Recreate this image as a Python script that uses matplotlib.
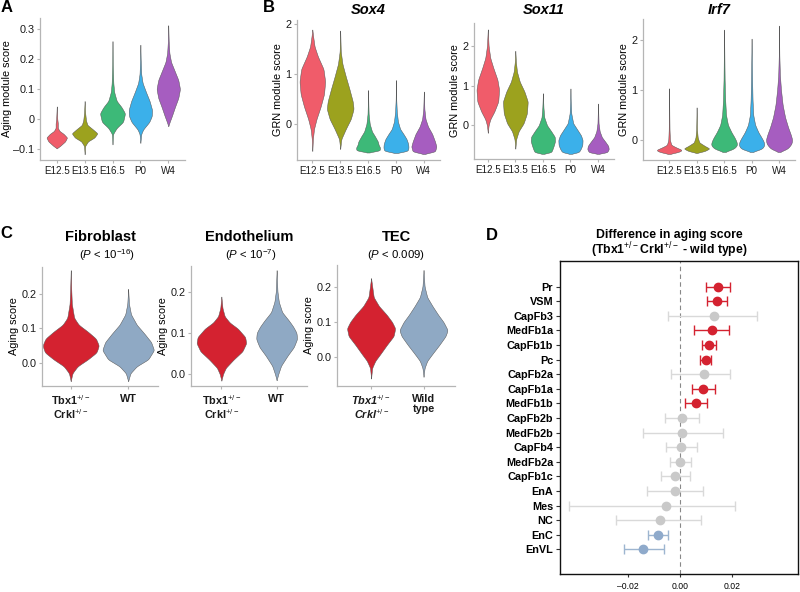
import numpy as np
import matplotlib
matplotlib.use("Agg")
import matplotlib.pyplot as plt

plt.rcParams['font.family'] = ['Liberation Sans', 'DejaVu Sans']
plt.rcParams['mathtext.fontset'] = 'custom'
plt.rcParams['mathtext.rm'] = 'Liberation Sans'
plt.rcParams['mathtext.it'] = 'Liberation Sans:italic'
plt.rcParams['mathtext.bf'] = 'Liberation Sans:bold'

# ---------------- data ----------------
stages = ["E12.5", "E13.5", "E16.5", "P0", "W4"]
stage_colors = ["#F05C6A", "#9CA21E", "#3DB978", "#3BB0EA", "#A65DC0"]

# Panel A: aging module score violins (score knots, half-width knots)
a_y = [
    [-0.098, -0.09, -0.075, -0.062, -0.05, -0.04, -0.03, -0.015, 0.0, 0.02, 0.042],
    [-0.118, -0.09, -0.075, -0.062, -0.048, -0.035, -0.02, -0.005, 0.02, 0.06],
    [-0.085, -0.05, -0.03, -0.01, 0.019, 0.04, 0.06, 0.09, 0.12, 0.18, 0.26],
    [-0.08, -0.05, -0.035, -0.01, 0.01, 0.03, 0.06, 0.09, 0.12, 0.15, 0.2, 0.248],
    [-0.024, -0.01, 0.01, 0.04, 0.07, 0.1, 0.13, 0.16, 0.19, 0.22, 0.26, 0.313],
]
a_w = [
    [0, 0.12, 0.3, 0.37, 0.25, 0.1, 0.04, 0.04, 0.02, 0.01, 0],
    [0, 0.02, 0.12, 0.35, 0.46, 0.3, 0.1, 0.05, 0.02, 0],
    [0, 0.02, 0.15, 0.38, 0.45, 0.32, 0.15, 0.06, 0.03, 0.01, 0],
    [0, 0.03, 0.1, 0.32, 0.41, 0.42, 0.33, 0.2, 0.08, 0.03, 0.01, 0],
    [0, 0.05, 0.13, 0.24, 0.36, 0.42, 0.36, 0.23, 0.1, 0.04, 0.015, 0],
]

# Panel B: GRN module score violins
sox4_y = [
    [-0.54, -0.3, -0.1, 0.1, 0.35, 0.6, 0.85, 1.1, 1.35, 1.55, 1.75, 1.89],
    [-0.5, -0.3, -0.1, 0.1, 0.3, 0.45, 0.7, 0.95, 1.2, 1.45, 1.87],
    [-0.57, -0.53, -0.47, -0.42, -0.35, -0.25, -0.15, 0.0, 0.2, 0.4, 0.68],
    [-0.58, -0.54, -0.47, -0.4, -0.3, -0.2, -0.1, 0.05, 0.25, 0.5, 0.88],
    [-0.6, -0.55, -0.45, -0.35, -0.2, -0.05, 0.1, 0.3, 0.65],
]
sox4_w = [
    [0, 0.02, 0.06, 0.15, 0.3, 0.42, 0.46, 0.4, 0.2, 0.08, 0.03, 0],
    [0, 0.04, 0.2, 0.38, 0.48, 0.45, 0.33, 0.2, 0.08, 0.02, 0],
    [0, 0.42, 0.43, 0.38, 0.35, 0.25, 0.14, 0.06, 0.02, 0.01, 0],
    [0, 0.42, 0.45, 0.44, 0.38, 0.27, 0.15, 0.07, 0.03, 0.01, 0],
    [0, 0.4, 0.45, 0.4, 0.3, 0.15, 0.06, 0.02, 0],
]
sox11_y = [
    [-0.19, 0.0, 0.15, 0.35, 0.6, 0.9, 1.15, 1.45, 1.7, 2.0, 2.42],
    [-0.59, -0.35, -0.15, 0.05, 0.3, 0.6, 0.85, 1.1, 1.35, 1.6, 1.88],
    [-0.72, -0.68, -0.6, -0.5, -0.4, -0.29, -0.15, 0.0, 0.2, 0.45, 0.81],
    [-0.72, -0.68, -0.6, -0.5, -0.37, -0.25, -0.1, 0.05, 0.3, 0.6, 0.93],
    [-0.72, -0.68, -0.6, -0.52, -0.42, -0.3, -0.15, 0.05, 0.3, 0.55],
]
sox11_w = [
    [0, 0.03, 0.09, 0.24, 0.38, 0.41, 0.35, 0.2, 0.09, 0.03, 0],
    [0, 0.03, 0.12, 0.3, 0.42, 0.45, 0.33, 0.16, 0.06, 0.02, 0],
    [0, 0.3, 0.35, 0.4, 0.44, 0.43, 0.3, 0.15, 0.05, 0.02, 0],
    [0, 0.3, 0.37, 0.43, 0.44, 0.38, 0.24, 0.1, 0.03, 0.01, 0],
    [0, 0.33, 0.39, 0.37, 0.27, 0.14, 0.06, 0.02, 0.01, 0],
]
irf7_y = [
    [-0.28, -0.24, -0.2, -0.16, -0.1, 0.0, 0.2, 0.5, 1.03],
    [-0.26, -0.22, -0.17, -0.12, -0.05, 0.05, 0.2, 0.4, 0.65],
    [-0.24, -0.18, -0.1, -0.03, 0.05, 0.15, 0.3, 0.5, 0.8, 1.2, 1.7, 2.2],
    [-0.24, -0.18, -0.1, -0.03, 0.05, 0.15, 0.3, 0.5, 0.8, 1.2, 1.6, 2.02],
    [-0.24, -0.18, -0.08, 0.0, 0.1, 0.25, 0.45, 0.7, 1.0, 1.3, 1.7, 2.28],
]
irf7_w = [
    [0, 0.35, 0.48, 0.3, 0.08, 0.03, 0.015, 0.008, 0],
    [0, 0.3, 0.47, 0.3, 0.1, 0.04, 0.015, 0.008, 0],
    [0, 0.35, 0.48, 0.45, 0.38, 0.27, 0.14, 0.07, 0.04, 0.02, 0.01, 0],
    [0, 0.38, 0.47, 0.44, 0.36, 0.25, 0.13, 0.06, 0.035, 0.02, 0.01, 0],
    [0, 0.3, 0.45, 0.48, 0.43, 0.33, 0.22, 0.13, 0.07, 0.03, 0.01, 0],
]

# Panel C: aging score, mutant vs wild type
geno_colors = ["#D42230", "#8FA9C4"]
fib_y = [
    [-0.053, -0.03, -0.01, 0.01, 0.03, 0.05, 0.07, 0.09, 0.11, 0.13, 0.17, 0.21, 0.268],
    [-0.053, -0.03, -0.01, 0.01, 0.037, 0.06, 0.085, 0.11, 0.14, 0.17, 0.214],
]
fib_w = [
    [0, 0.03, 0.12, 0.3, 0.45, 0.49, 0.44, 0.3, 0.14, 0.06, 0.02, 0.01, 0],
    [0, 0.04, 0.15, 0.35, 0.45, 0.4, 0.28, 0.15, 0.05, 0.015, 0],
]
endo_y = [
    [-0.016, 0.0, 0.015, 0.035, 0.055, 0.075, 0.09, 0.11, 0.125, 0.14, 0.16, 0.188],
    [-0.015, 0.0, 0.02, 0.045, 0.065, 0.085, 0.1, 0.115, 0.13, 0.15, 0.175, 0.2, 0.252],
]
endo_w = [
    [0, 0.03, 0.08, 0.22, 0.38, 0.45, 0.43, 0.3, 0.15, 0.06, 0.02, 0],
    [0, 0.03, 0.08, 0.2, 0.31, 0.37, 0.36, 0.3, 0.22, 0.1, 0.04, 0.015, 0],
]
tec_y = [
    [-0.06, -0.03, -0.01, 0.01, 0.035, 0.06, 0.082, 0.1, 0.12, 0.145, 0.17, 0.224],
    [-0.055, -0.03, -0.01, 0.01, 0.035, 0.06, 0.077, 0.1, 0.12, 0.145, 0.17, 0.2, 0.247],
]
tec_w = [
    [0, 0.02, 0.08, 0.18, 0.3, 0.43, 0.46, 0.4, 0.3, 0.15, 0.05, 0],
    [0, 0.02, 0.07, 0.17, 0.3, 0.42, 0.46, 0.38, 0.28, 0.17, 0.07, 0.02, 0],
]

# Panel D: difference in aging score (top to bottom)
cell_types = ["Pr", "VSM", "CapFb3", "MedFb1a", "CapFb1b", "Pc", "CapFb2a", "CapFb1a",
              "MedFb1b", "CapFb2b", "MedFb2b", "CapFb4", "MedFb2a", "CapFb1c", "EnA",
              "Mes", "NC", "EnC", "EnVL"]
diff = [0.0144, 0.0141, 0.0131, 0.0121, 0.0111, 0.0098, 0.0090, 0.0089, 0.0060, 0.0008,
        0.0006, 0.0004, 0.0000, -0.0019, -0.0020, -0.0055, -0.0076, -0.0084, -0.0140]
ci_lo = [0.0098, 0.0103, -0.0047, 0.0053, 0.0083, 0.0075, -0.0036, 0.0045, 0.0017, -0.0057,
         -0.0142, -0.0055, -0.0039, -0.0074, -0.0126, -0.0422, -0.0244, -0.0121, -0.0214]
ci_hi = [0.0191, 0.0181, 0.0295, 0.0187, 0.0137, 0.0118, 0.0192, 0.0135, 0.0101, 0.0073,
         0.0163, 0.0064, 0.0041, 0.0039, 0.0087, 0.0209, 0.0081, -0.0047, -0.0062]
status = ["up", "up", "ns", "up", "up", "up", "ns", "up", "up", "ns",
          "ns", "ns", "ns", "ns", "ns", "ns", "ns", "down", "down"]
dot_colors = {"up": "#D42230", "ns": "#C9C9C9", "down": "#8FAACB"}
bar_colors = {"up": "#D42230", "ns": "#D9D9D9", "down": "#9DB5D0"}

# ---------------- helpers ----------------
W, H = 800, 592
fig = plt.figure(figsize=(8, 5.92), dpi=100)


def box(l, t, r, b):
    return [l / W, 1 - b / H, (r - l) / W, (b - t) / H]


def smooth_profile(ys, ws, n=400, sigma=4):
    ys = np.asarray(ys, float)
    ws = np.asarray(ws, float)
    yy = np.linspace(ys[0], ys[-1], n)
    ww = np.interp(yy, ys, ws)
    k = np.arange(-4 * sigma, 4 * sigma + 1)
    kern = np.exp(-0.5 * (k / sigma) ** 2)
    kern /= kern.sum()
    pad = np.concatenate([np.zeros(4 * sigma), ww, np.zeros(4 * sigma)])
    ww = np.convolve(pad, kern, mode='valid')
    return yy, ww


def violin(ax, x, ys, ws, color):
    yy, ww = smooth_profile(ys, ws)
    ax.fill_betweenx(yy, x - ww, x + ww, facecolor=color, edgecolor='#555555',
                     linewidth=0.35, zorder=2)


def style(ax, xsize=7.8):
    for s in ['top', 'right']:
        ax.spines[s].set_visible(False)
    for s in ['left', 'bottom']:
        ax.spines[s].set_color('#B5B5B5')
        ax.spines[s].set_linewidth(0.9)
    ax.tick_params(length=2.5, width=0.8, color='#B5B5B5', labelsize=7.8,
                   labelcolor='#1a1a1a', pad=1.5)
    ax.tick_params(axis='x', labelsize=xsize)


# ---------------- Panel A ----------------
axA = fig.add_axes(box(40, 18, 185, 160))
for i, st in enumerate(stages):
    violin(axA, i + 1, a_y[i], a_w[i], stage_colors[i])
axA.set_xlim(0.4, 5.6)
axA.set_ylim(-0.137, 0.337)
axA.set_xticks(range(1, 6))
axA.set_xticklabels(stages)
axA.set_yticks([-0.1, 0, 0.1, 0.2, 0.3])
axA.set_yticklabels(["\u20130.1", "0", "0.1", "0.2", "0.3"])
axA.set_ylabel("Aging module score", fontsize=7.8, labelpad=1)
style(axA, 7.1)

# ---------------- Panel B ----------------
b_specs = [
    ("Sox4", sox4_y, sox4_w, box(297, 20, 440, 160), (0.45, 5.58), (-0.72, 2.08)),
    ("Sox11", sox11_y, sox11_w, box(474, 23, 614, 159), (0.5, 5.58), (-0.85, 2.58)),
    ("Irf7", irf7_y, irf7_w, box(643, 19, 795, 160), (0.05, 5.58), (-0.4, 2.41)),
]
for name, ys, ws, rect, xl, yl in b_specs:
    ax = fig.add_axes(rect)
    for i in range(5):
        violin(ax, i + 1, ys[i], ws[i], stage_colors[i])
    ax.set_xlim(*xl)
    ax.set_ylim(*yl)
    ax.set_xticks(range(1, 6))
    ax.set_xticklabels(stages)
    ax.set_yticks([0, 1, 2])
    ax.set_ylabel("GRN module score", fontsize=7.8, labelpad=2)
    style(ax, 7.1)
    cx = rect[0] + rect[2] / 2
    fig.text(cx, 1 - 10 / H, name, fontsize=10.5, fontweight='bold', fontstyle='italic',
             ha='center', va='center')

# ---------------- Panel C ----------------
c_specs = [
    ("Fibroblast", r"($\it{P}$ < 10$^{-16}$)", 107, fib_y, fib_w, box(42, 267, 158, 386),
     (0.5, 2.52), (-0.067, 0.277),
     ["Tbx1$^{+/-}$\nCrkl$^{+/-}$", "WT"], 'normal'),
    ("Endothelium", r"($\it{P}$ < 10$^{-7}$)", 251, endo_y, endo_w, box(191, 266, 307, 386),
     (0.45, 2.55), (-0.029, 0.262),
     ["Tbx1$^{+/-}$\nCrkl$^{+/-}$", "WT"], 'normal'),
    ("TEC", r"($\it{P}$ < 0.009)", 396, tec_y, tec_w, box(337, 265, 455, 386),
     (0.35, 2.6), (-0.081, 0.261),
     ["Tbx1$^{+/-}$\nCrkl$^{+/-}$", "Wild\ntype"], 'italic'),
]
for title, ptxt, px, ys, ws, rect, xl, yl, labs, fst in c_specs:
    ax = fig.add_axes(rect)
    for i in range(2):
        violin(ax, i + 1, ys[i], ws[i], geno_colors[i])
    ax.set_xlim(*xl)
    ax.set_ylim(*yl)
    ax.set_xticks([1, 2])
    ax.set_xticklabels(labs, fontweight='bold', linespacing=1.0)
    ax.get_xticklabels()[0].set_fontstyle(fst)
    ax.set_yticks([0.0, 0.1, 0.2])
    ax.set_yticklabels(["0.0", "0.1", "0.2"])
    ax.set_ylabel("Aging score", fontsize=7.8, labelpad=2)
    style(ax)
    ax.tick_params(axis='x', pad=3)
    cx = rect[0] + rect[2] / 2
    fig.text(cx, 1 - 237 / H, title, fontsize=10.5, fontweight='bold', ha='center', va='center')
    fig.text(px / W, 1 - 255 / H, ptxt, fontsize=8.2, ha='center', va='center')

# ---------------- Panel D ----------------
axD = fig.add_axes(box(560, 261, 798, 574))
n = len(cell_types)
pos = np.arange(n, 0, -1)
for i in range(n):
    st = status[i]
    axD.errorbar(diff[i], pos[i],
                 xerr=[[diff[i] - ci_lo[i]], [ci_hi[i] - diff[i]]],
                 fmt='o', ms=6, mfc=dot_colors[st], mec=dot_colors[st],
                 ecolor=bar_colors[st], elinewidth=1.0, capsize=3.5, capthick=1.0,
                 zorder=3)
axD.axvline(0, color='#888888', linestyle=(0, (4, 3)), linewidth=0.8, zorder=1)
axD.set_xlim(-0.0458, 0.045)
axD.set_ylim(-0.69, 20.76)
axD.set_yticks(pos)
axD.set_yticklabels(cell_types, fontweight='bold', fontsize=7.8)
axD.set_xticks([-0.02, 0.0, 0.02])
axD.set_xticklabels(["\u20130.02", "0.00", "0.02"])
axD.tick_params(axis='x', labelsize=6.2, length=2, pad=4, color='#333333')
axD.tick_params(axis='y', length=3, width=0.8, pad=2, color='#333333')
for s in axD.spines.values():
    s.set_color('#111111')
    s.set_linewidth(1.0)
fig.text(669 / W, 1 - 235 / H, "Difference in aging score", fontsize=8.8,
         fontweight='bold', ha='center', va='center')
fig.text(669 / W, 1 - 250.5 / H, "(Tbx1$^{+/-}$Crkl$^{+/-}$ - wild type)", fontsize=8.8,
         fontweight='bold', ha='center', va='center')

# ---------------- panel letters ----------------
for letter, x, y in [("A", 7, 8), ("B", 269, 8), ("C", 6, 234), ("D", 492, 235)]:
    fig.text(x / W, 1 - y / H, letter, fontsize=12, fontweight='bold',
             ha='center', va='center')

fig.savefig("out.png", dpi=100)
